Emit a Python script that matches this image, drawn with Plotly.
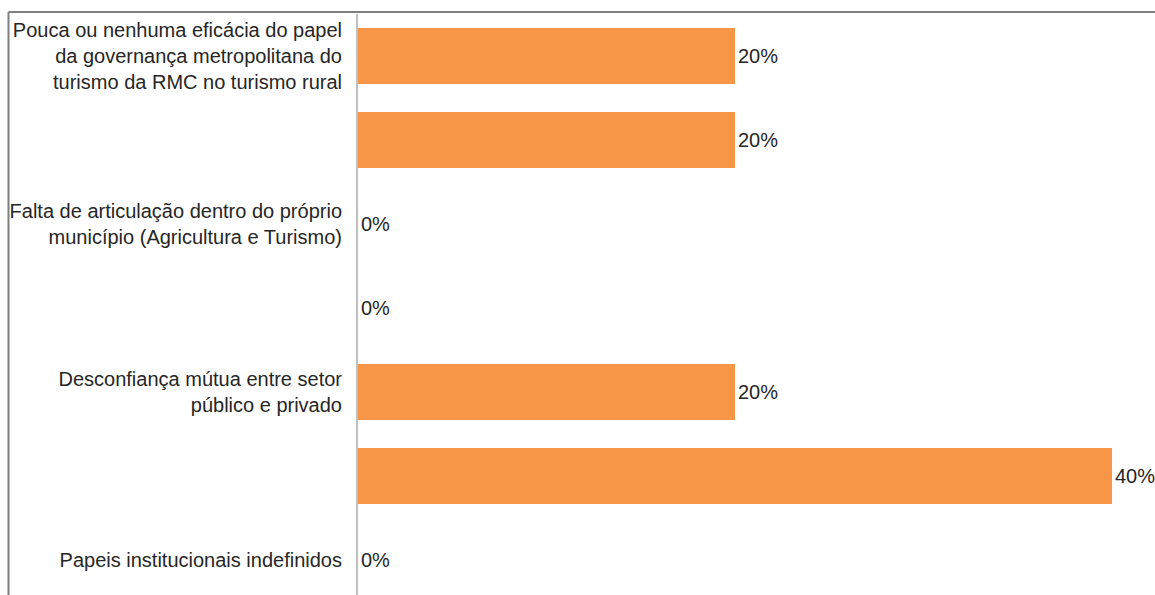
import plotly.graph_objects as go

categories = [
    "Pouca ou nenhuma eficácia do papel<br>da governança metropolitana do<br>turismo da RMC no turismo rural",
    "",
    "Falta de articulação dentro do próprio<br>município (Agricultura e Turismo)",
    "",
    "Desconfiança mútua entre setor<br>público e privado",
    "",
    "Papeis institucionais indefinidos",
]
values = [0.20, 0.20, 0.0, 0.0, 0.20, 0.40, 0.0]
value_labels = ["20%", "20%", "0%", "0%", "20%", "40%", "0%"]

positions = list(range(len(categories)))

FONT = "Liberation Sans, Arial, sans-serif"

fig = go.Figure(
    go.Bar(
        x=values,
        y=positions,
        orientation="h",
        marker=dict(color="#F79646", line=dict(width=0)),
        text=value_labels,
        textposition="outside",
        textfont=dict(size=20, color="#262626", family=FONT),
        cliponaxis=False,
        width=0.667,
        hoverinfo="skip",
    )
)

W, H = 1155, 595
ml, mt = 358, 14
plot_w = W - ml
plot_h = H - mt

frame_x = (8.5 - ml) / plot_w
frame_y = 1 + (mt - 12) / plot_h

fig.update_layout(
    width=W,
    height=H,
    margin=dict(l=ml, r=0, t=mt, b=0, pad=0),
    paper_bgcolor="white",
    plot_bgcolor="white",
    showlegend=False,
    font=dict(family=FONT, size=20, color="#262626"),
    xaxis=dict(
        range=[0, 0.20 * plot_w / 377.0],
        showgrid=False,
        showticklabels=False,
        zeroline=False,
        showline=False,
        ticks="",
    ),
    yaxis=dict(
        tickmode="array",
        tickvals=positions,
        ticktext=categories,
        range=[-0.5 + plot_h / 84.0, -0.5],
        showgrid=False,
        zeroline=False,
        showline=True,
        linecolor="#BFBFBF",
        linewidth=2,
        ticks="",
        ticklabelstandoff=10,
        tickfont=dict(size=20, color="#262626", family=FONT),
    ),
    shapes=[
        dict(type="line", xref="paper", yref="paper",
             x0=frame_x, x1=1.05, y0=frame_y, y1=frame_y,
             line=dict(color="#7F7F7F", width=2)),
        dict(type="line", xref="paper", yref="paper",
             x0=frame_x, x1=frame_x, y0=-0.05, y1=frame_y,
             line=dict(color="#7F7F7F", width=2)),
    ],
)

fig.write_html(
    "out.html",
    config={"displayModeBar": False},
    post_script="document.body.style.margin='0';document.body.style.overflow='hidden';",
)
